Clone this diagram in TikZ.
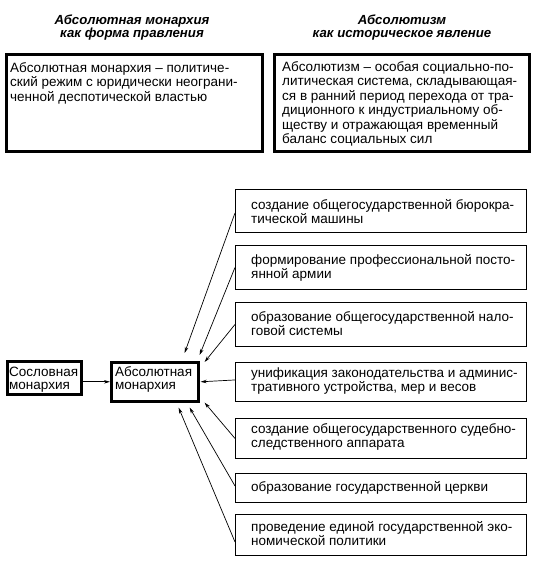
\documentclass[tikz,border=0pt]{standalone}
\usepackage{fontspec}
\setmainfont{Liberation Sans}
\usetikzlibrary{arrows.meta}
\begin{document}
\begin{tikzpicture}[x=1pt,y=-1pt,
  txt/.style={inner sep=0pt, anchor=base west, align=left, font=\fontsize{13.5}{14.5}\selectfont},
  tight/.style={font=\fontsize{13.5}{12.5}\selectfont},
  hdr/.style={inner sep=0pt, anchor=base, align=center, font=\fontsize{13.2}{12.5}\selectfont\bfseries\itshape},
  thickbox/.style={draw, line width=2.6pt, inner sep=0pt, anchor=north west},
  thinbox/.style={draw, line width=0.9pt, inner sep=0pt, anchor=north west, minimum width=291pt},
  arr/.style={line width=0.7pt, -{Stealth[length=6pt,width=3.5pt]}}
]
\useasboundingbox (0,0) rectangle (540,574);

% headers (base = baseline of last line)
\node[hdr] (h1) at (132,37) {Абсолютная монархия\\как форма правления};
\node[hdr] (h2) at (402,37) {Абсолютизм\\как историческое явление};

% top boxes
\node[thickbox, minimum width=256pt, minimum height=97pt] (tl) at (5,53) {};
\node[thickbox, minimum width=255pt, minimum height=97pt] (tr) at (273,53) {};
\node[txt] (tlt) at (10,101) {Абсолютная монархия – политиче-\\ский режим с юридически неограни-\\ченной деспотической властью};
\node[txt] (trt) at (282,143.5) {Абсолютизм – особая социально-по-\\литическая система, складывающая-\\ся в ранний период перехода от тра-\\диционного к индустриальному об-\\ществу и отражающая временный\\баланс социальных сил};

% left boxes
\node[thickbox, minimum width=74pt, minimum height=33pt] (sm) at (6,360) {};
\node[txt, tight] (smt) at (9,389) {Сословная\\монархия};
\node[thickbox, minimum width=87pt, minimum height=39pt] (am) at (110,361) {};
\node[txt, tight] (amt) at (115,389) {Абсолютная\\монархия};

% right boxes
\node[thinbox, minimum height=43pt] (b1) at (235,189) {};
\node[thinbox, minimum height=44pt] (b2) at (235,245) {};
\node[thinbox, minimum height=44pt] (b3) at (235,302) {};
\node[thinbox, minimum height=39pt] (b4) at (235,362) {};
\node[thinbox, minimum height=40pt] (b5) at (235,418) {};
\node[thinbox, minimum height=29pt] (b6) at (235,473) {};
\node[thinbox, minimum height=41pt] (b7) at (235,514) {};

\node[txt] (b1t) at (251,223.5) {создание общегосударственной бюрокра-\\тической машины};
\node[txt] (b2t) at (251,278.5) {формирование профессиональной посто-\\янной армии};
\node[txt] (b3t) at (251,335.5) {образование общегосударственной нало-\\говой системы};
\node[txt] (b4t) at (251,391.5) {унификация законодательства и админис-\\тративного устройства, мер и весов};
\node[txt] (b5t) at (251,447.5) {создание общегосударственного судебно-\\следственного аппарата};
\node[txt] (b6t) at (251,491) {образование государственной церкви};
\node[txt] (b7t) at (251,545.5) {проведение единой государственной эко-\\номической политики};

% arrows
\draw[arr] (am.west -| sm.east) -- (am.west);
\draw[arr] ([yshift=-2pt]b1.west) -- ([shift={(-15,-8)}]am.north east);
\draw[arr] (b2.west) -- ([shift={(0,-6)}]am.north east);
\draw[arr] (b3.west) -- ([shift={(5,1)}]am.north east);
\draw[arr] ([yshift=2pt]b4.west) -- ([xshift=1pt]am.east);
\draw[arr] (b5.west) -- ([shift={(5,0)}]am.south east);
\draw[arr] ([yshift=2pt]b6.west) -- ([shift={(-10,5)}]am.south east);
\draw[arr] ([yshift=-7pt]b7.west) -- ([shift={(-21,5)}]am.south east);
\end{tikzpicture}
\end{document}
